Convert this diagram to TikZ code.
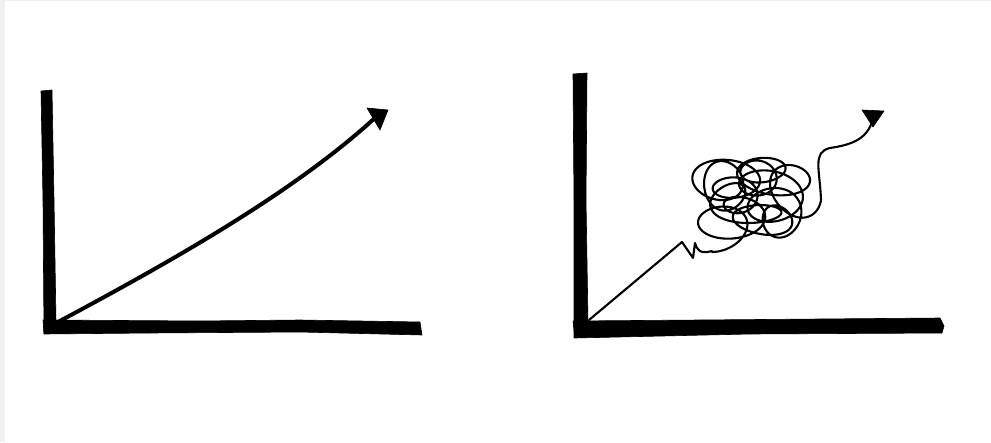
\documentclass[tikz,border=0pt]{standalone}
\begin{document}
\begin{tikzpicture}[x=1pt,y=-1pt,
  ink/.style={fill=black,draw=black,line width=0.6pt,line join=round},
  thinline/.style={draw=black,line width=2.1pt,line cap=round,line join=round},
  thickline/.style={draw=black,line width=4pt,line cap=round,line join=round}]
\useasboundingbox (0,0) rectangle (991,442);
\fill[gray!12] (0,0) rectangle (991,442);
\fill[white] (5,1) rectangle (991,442);
% ---------- left graph ----------
\coordinate (LO) at (58,322);
\coordinate (LT) at (377,116);
\fill[ink] (41,91) -- (52,90) -- (54,200) -- (56,322) -- (44,333) -- (43,200) -- cycle;
\fill[ink] (43,320) -- (200,321) -- (300,320) -- (420,322) -- (422,335) -- (300,332) -- (150,333) -- (44,334) -- cycle;
\draw[thickline] (LO) .. controls (170,262) and (295,192) .. (LT);
\fill[ink] (367,108) -- (388,110) -- (380,130) -- cycle;
% ---------- right graph ----------
\coordinate (RO) at (589,320);
\coordinate (RS) at (712,251);
\coordinate (RE) at (821,200);
\fill[ink] (573,74) -- (587,73) -- (586,200) -- (588,322) -- (574,338) -- (574,200) -- cycle;
\fill[ink] (573,321) -- (700,320) -- (940,318) -- (944,326) -- (942,333) -- (750,334) -- (575,338) -- cycle;
\draw[thinline] (RO) -- (682,242) -- (693,258) -- (695,243) .. controls (698,254) and (705,253) .. (RS);
\draw[thinline] plot[domain=0:1,samples=1000,variable=\t]
  ({712+80*\t+20*sin(760*\t)+(24+8*sin(1700*\t))*cos(90-4770*\t)},
   {206+24*cos(650*\t)-14*\t+(17+5*cos(1100*\t))*sin(90-4770*\t)});
\draw[thinline] (RE) .. controls (820,170) and (812,152) .. (830,148)
  .. controls (850,145) and (866,140) .. (872,122);
\fill[ink] (862,110) -- (884,111) -- (873,127) -- cycle;
\end{tikzpicture}
\end{document}
